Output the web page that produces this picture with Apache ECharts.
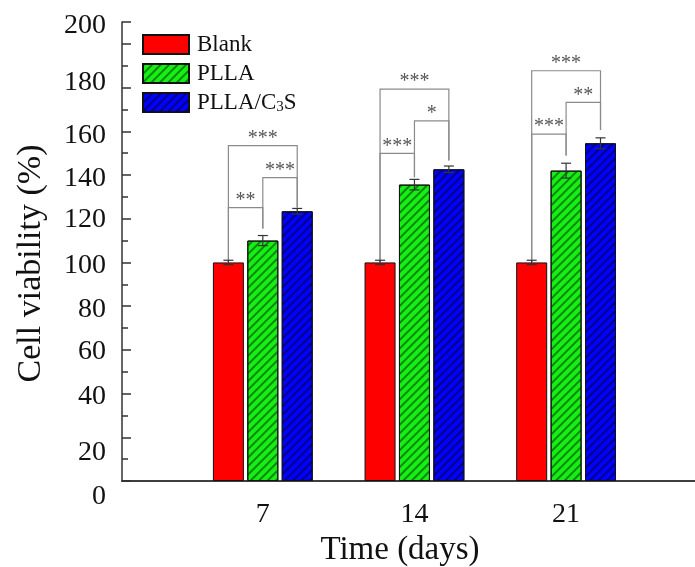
<!DOCTYPE html>
<html>
<head>
<meta charset="utf-8">
<script src="https://cdn.jsdelivr.net/npm/echarts@6/dist/echarts.min.js"></script>
<style>
  html, body { margin: 0; padding: 0; background: #fff; }
  #main { width: 695px; height: 567px; }
</style>
</head>
<body>
<div id="main"></div>
<script>
// data
var days = [7, 14, 21];
var seriesNames = ['Blank', 'PLLA', 'PLLA/C3S'];
var blankVals = [100, 100, 100];
var pllaVals = [110, 135.6, 142];
var c3sVals = [123.4, 142.6, 154.5];
var blankErr = [1, 1, 1];
var pllaErr = [2.3, 2.4, 3.4];
var c3sErr = [1.3, 1.5, 2.5];
var yTicks = [0, 20, 40, 60, 80, 100, 120, 140, 160, 180, 200];
// significance brackets: [day, left bar, right bar, top, left leg end, right leg end]
var brackets = [
    [7, 0, 1, 125.1, 100, 115.5],
    [7, 1, 2, 138.8, 115.5, 125.1],
    [7, 0, 2, 153.4, 100, 125.1],
    [14, 0, 1, 149.9, 100, 139],
    [14, 1, 2, 164.8, 139, 146.6],
    [14, 0, 2, 179.3, 100, 146.6],
    [21, 0, 1, 158.7, 100, 148.9],
    [21, 1, 2, 173.2, 148.9, 160.6],
    [21, 0, 2, 187.7, 100, 160.6]
];
var bracketStars = ['**', '***', '***', '***', '*', '***', '***', '**', '***'];

var FONT = '"Liberation Serif", "Times New Roman", serif';
var BAR_W = 31;
var BAR_GAP = 0.11;
var BAR_STEP = BAR_W * (1 + BAR_GAP);

var chart = echarts.init(document.getElementById('main'));

var pairs = function (vals) {
    return days.map(function (d, i) { return [d, vals[i]]; });
};

var errData = [];
[[blankVals, blankErr], [pllaVals, pllaErr], [c3sVals, c3sErr]].forEach(function (s, k) {
    days.forEach(function (d, i) {
        errData.push([d, s[0][i], s[1][i], k]);
    });
});

// tick labels in the original sit a bit off their ticks (padding: [top, bottom])
var labelPad = {200: [0, 36], 180: [0, 10], 160: [8, 0], 140: [8, 0], 120: [2, 0], 100: [6, 0],
    80: [6, 0], 60: [4, 0], 40: [6, 0], 20: [30, 0], 0: [32, 0]};
var labelRich = {};
yTicks.forEach(function (v) {
    labelRich['t' + v] = {fontFamily: FONT, fontSize: 28, color: '#111',
        padding: [labelPad[v][0], 0, labelPad[v][1], 0]};
});

var barStyle = function (color, decalColor) {
    var st = {color: color, borderColor: '#111', borderWidth: 1};
    if (decalColor) {
        st.decal = {
            symbol: 'rect',
            symbolSize: 1,
            dashArrayX: [[1, 0]],
            dashArrayY: [1.3, 3.7],
            rotation: -Math.PI / 4,
            color: decalColor
        };
    }
    return st;
};

var axisLine = {show: true, lineStyle: {color: '#333', width: 1.5}};

var option = {
    animation: false,
    grid: {left: 122, top: 22, right: 0, bottom: 86, outerBoundsMode: 'none', containLabel: false},
    legend: {
        left: 137, top: 28, orient: 'vertical',
        icon: 'rect', itemWidth: 46, itemHeight: 19, itemGap: 6,
        data: seriesNames,
        formatter: function (name) {
            return name === 'PLLA/C3S' ? 'PLLA/C{sub|3}S' : name;
        },
        textStyle: {
            fontFamily: FONT, fontSize: 23, color: '#111', padding: [0, 0, 0, 3],
            rich: {sub: {fontFamily: FONT, fontSize: 15, color: '#111', padding: [9, 0, 0, 0]}}
        }
    },
    xAxis: [{
        type: 'value', min: 0.5, max: 26.95,
        name: 'Time (days)', nameLocation: 'middle', nameGap: 41,
        nameTextStyle: {fontFamily: FONT, fontSize: 33, color: '#111', padding: [0, 17, 0, 0]},
        axisLine: axisLine,
        axisTick: {show: false},
        splitLine: {show: false},
        axisLabel: {customValues: days, fontFamily: FONT, fontSize: 28, color: '#111', margin: 20}
    }, {
        type: 'value', min: 0.5, max: 26.95, position: 'top',
        axisLine: axisLine, axisTick: {show: false}, axisLabel: {show: false}, splitLine: {show: false}
    }],
    yAxis: [{
        type: 'value', min: 0, max: 210, interval: 20,
        name: 'Cell viability (%)', nameLocation: 'middle', nameGap: 74,
        nameTextStyle: {fontFamily: FONT, fontSize: 34, color: '#111', padding: [0, 24, 0, 0]},
        axisLine: axisLine,
        axisTick: {inside: true, length: 9, lineStyle: {color: '#333', width: 1.5}},
        splitLine: {show: false},
        axisLabel: {
            margin: 16, fontFamily: FONT, fontSize: 28, color: '#111',
            formatter: function (v) {
                if (yTicks.indexOf(v) < 0) return '';
                return '{t' + v + '|' + v + '}';
            },
            rich: labelRich
        }
    }, {
        type: 'value', min: 0, max: 210, interval: 10, position: 'left',
        axisLine: {show: false},
        axisTick: {inside: true, length: 6, lineStyle: {color: '#333', width: 1.5}},
        axisLabel: {show: false},
        splitLine: {show: false}
    }],
    series: [
        {name: 'Blank', type: 'bar', data: pairs(blankVals), barWidth: BAR_W, barGap: '11%',
            itemStyle: barStyle('#ff0000')},
        {name: 'PLLA', type: 'bar', data: pairs(pllaVals), barWidth: BAR_W, barGap: '11%',
            itemStyle: barStyle('#16ee16', 'rgba(0,70,0,0.6)')},
        {name: 'PLLA/C3S', type: 'bar', data: pairs(c3sVals), barWidth: BAR_W, barGap: '11%',
            itemStyle: barStyle('#0000ff', 'rgba(0,0,70,0.65)')},
        {
            type: 'custom', z: 5, data: errData, encode: {x: 0, y: 1},
            renderItem: function (params, api) {
                var d = api.value(0), m = api.value(1), e = api.value(2), k = api.value(3);
                var x = api.coord([d, m])[0] + (k - 1) * BAR_STEP;
                var y1 = api.coord([d, m + e])[1];
                var y2 = api.coord([d, m - e])[1];
                var st = {stroke: '#333', lineWidth: 1.2};
                return {type: 'group', children: [
                    {type: 'line', shape: {x1: x, y1: y1, x2: x, y2: y2}, style: st},
                    {type: 'line', shape: {x1: x - 5, y1: y1, x2: x + 5, y2: y1}, style: st},
                    {type: 'line', shape: {x1: x - 5, y1: y2, x2: x + 5, y2: y2}, style: st}
                ]};
            }
        },
        {
            type: 'custom', z: 4, data: brackets, encode: {x: 0, y: 3},
            renderItem: function (params, api) {
                var d = api.value(0);
                var cx = api.coord([d, 0])[0];
                var xl = cx + (api.value(1) - 1) * BAR_STEP;
                var xr = cx + (api.value(2) - 1) * BAR_STEP;
                var yt = api.coord([d, api.value(3)])[1];
                var yl = api.coord([d, api.value(4)])[1];
                var yr = api.coord([d, api.value(5)])[1];
                return {type: 'group', children: [
                    {type: 'polyline', shape: {points: [[xl, yl], [xl, yt], [xr, yt], [xr, yr]]},
                        style: {stroke: '#8a8a8a', lineWidth: 1.2, fill: null}},
                    {type: 'text', x: (xl + xr) / 2, y: yt - 7,
                        style: {text: bracketStars[params.dataIndex], fill: '#555',
                            font: '20px ' + FONT, align: 'center', verticalAlign: 'middle'}}
                ]};
            }
        }
    ]
};

chart.setOption(option);
</script>
</body>
</html>
